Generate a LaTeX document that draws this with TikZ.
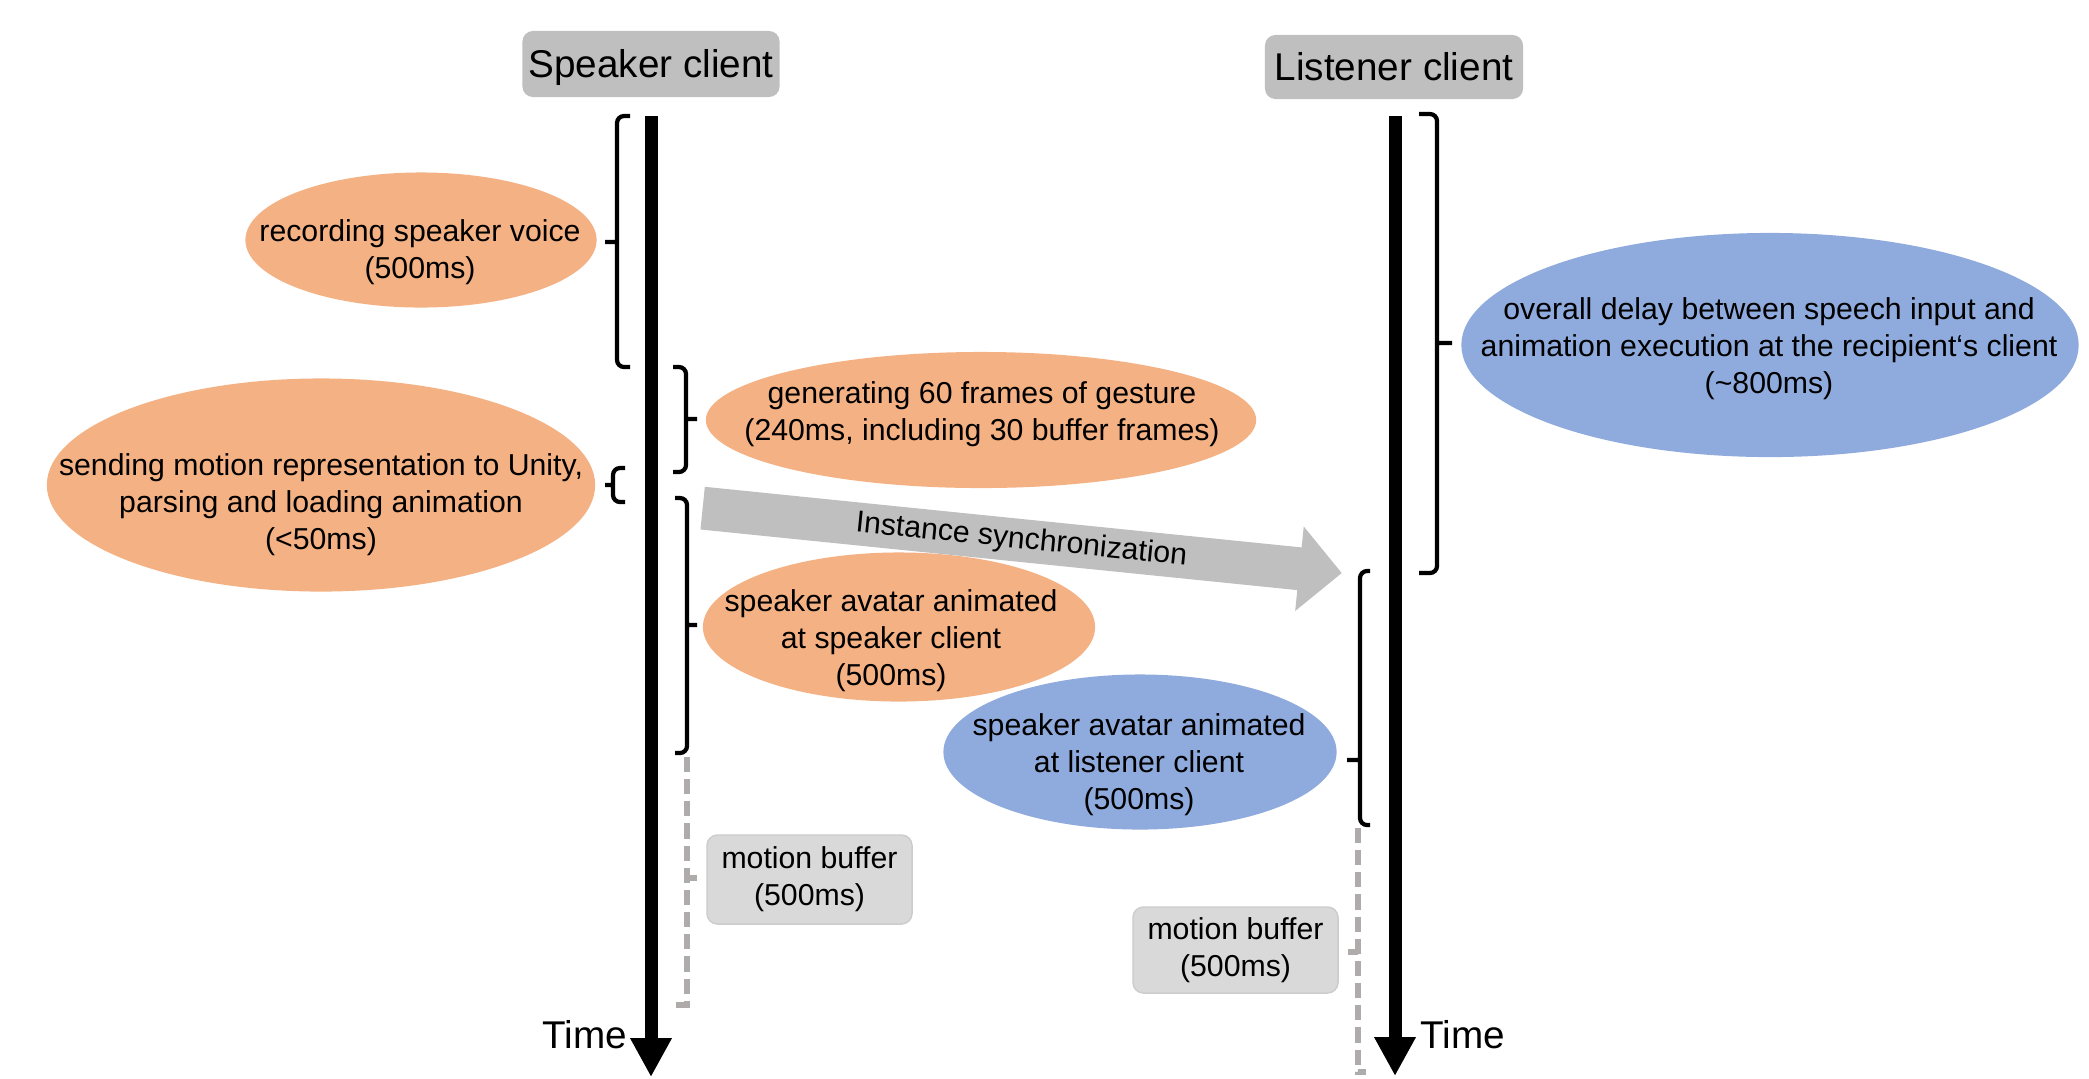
\documentclass[tikz,border=0pt]{standalone}
\usepackage{fontspec}
\setmainfont{Liberation Sans}
\usetikzlibrary{arrows.meta,shapes.geometric,shapes.arrows}
\definecolor{phaseorange}{HTML}{F4B183}
\definecolor{phaseblue}{HTML}{8FAADC}
\definecolor{titlegrey}{HTML}{BFBFBF}
\definecolor{buffergrey}{HTML}{D9D9D9}
\definecolor{dashgrey}{HTML}{AFABAB}
\def\timebrace[#1](#2:#3:#4)(#5:#6)(#7:#8){\draw[#1] (#5,#3) -- (#2,#3) -- (#2,#4) -- (#6,#4) (#2,#7) -- (#8,#7);}

\begin{document}
\begin{tikzpicture}[x=0.01cm, y=-0.01cm,
		client/.style={fill=titlegrey, rounded corners=3pt, inner sep=0pt, text height=7.9pt, text depth=0pt, minimum width=2.57cm, minimum height=0.65cm, font=\fontsize{11pt}{13pt}\selectfont},
		phase/.style={ellipse, inner sep=0pt},
		orangephase/.style={phase, fill=phaseorange},
		bluephase/.style={phase, fill=phaseblue},
		phasetext/.style={align=center, inner sep=0pt, font=\fontsize{8.6pt}{10.5pt}\selectfont},
		bufferbox/.style={fill=buffergrey, draw=black!20, line width=0.4pt, rounded corners=3pt, inner sep=0pt, minimum width=2.05cm, align=center, font=\fontsize{8.6pt}{10.5pt}\selectfont},
		timeline/.style={line width=3.7pt, -{Triangle[width=0.39cm,length=0.39cm]}},
		timelabel/.style={inner sep=0pt, font=\fontsize{11pt}{13pt}\selectfont},
		brace/.style={line width=1.2pt, rounded corners=2pt},
		bufferbrace/.style={line width=1.6pt, dashgrey, dash pattern=on 4.3pt off 2pt},
		syncarrow/.style={single arrow, fill=titlegrey, single arrow head extend=0.21cm, inner xsep=0pt, inner ysep=0.065cm, text height=6.3pt, text depth=1.8pt, font=\fontsize{8.6pt}{10.5pt}\selectfont}]
			%%%%% START %%%%%
			\useasboundingbox (0,0) rectangle (2089,1078);
			
			\node[client, minimum height=0.66cm] (spk-client) at (651,64) {Speaker client};
			\node[client, minimum width=2.58cm, minimum height=0.64cm] (lis-client) at (1394,67) {Listener client};
			
			\coordinate (spk-top) at (651,116);
			\coordinate (spk-end) at (651,1077);
			\coordinate (lis-top) at (1395,116);
			\coordinate (lis-end) at (1395,1076);
			\draw[timeline] (spk-top) -- (spk-end);
			\draw[timeline] (lis-top) -- (lis-end);
			\node[timelabel, anchor=east] (spk-time) at (628,1035) {Time};
			\node[timelabel, anchor=west] (lis-time) at (1420,1035) {Time};
			
			\node[orangephase, minimum width=3.51cm, minimum height=1.35cm] (rec) at (421,240) {};
			\node[phasetext] (rec-txt) at (420,252) {recording speaker voice\\(500ms)};
			
			\node[orangephase, minimum width=5.50cm, minimum height=1.36cm] (gen) at (981,420) {};
			\node[phasetext] (gen-txt) at (982,414) {generating 60 frames of gesture\\(240ms, including 30 buffer frames)};
			
			\node[orangephase, minimum width=5.48cm, minimum height=2.13cm] (send) at (321,485) {};
			\node[phasetext] (send-txt) at (321,505) {sending motion representation to Unity,\\parsing and loading animation\\(<50ms)};
			
			\node[orangephase, minimum width=3.92cm, minimum height=1.49cm] (spk-anim) at (899,627) {};
			\node[phasetext] (spk-anim-txt) at (891,641) {speaker avatar animated\\at speaker client\\(500ms)};
			
			\node[bluephase, minimum width=3.93cm, minimum height=1.55cm] (lis-anim) at (1140,752) {};
			\node[phasetext] (lis-anim-txt) at (1139,765) {speaker avatar animated\\at listener client\\(500ms)};
			
			\node[bluephase, minimum width=6.17cm, minimum height=2.24cm] (overall) at (1770,345) {};
			\node[phasetext] (overall-txt) at (1769,349) {overall delay between speech input and\\animation execution at the recipient‘s client\\(\textasciitilde800ms)};
			
			\node[syncarrow, rotate=-5.8, minimum height=6.42cm] (sync) at (1011.5,539.5) {\hspace*{0.2cm}Instance synchronization};
			
			\node[bufferbox, minimum height=0.89cm] (spk-buf) at (809.5,879.5) {motion buffer\\(500ms)};
			\node[bufferbox, minimum height=0.86cm] (lis-buf) at (1235.5,950) {motion buffer\\(500ms)};
			
			\timebrace[brace](617:116:367)(630:630)(242:605)
			\timebrace[brace](686:367:472)(673:673)(419:697)
			\timebrace[brace](613:468:502)(625:625)(485:605)
			\timebrace[brace](687:498:753)(675:675)(625:697)
			\timebrace[bufferbrace](687:757:1005)(687:676)(878:697)
			
			\timebrace[brace](1437:114:573)(1419:1419)(343:1452)
			\timebrace[brace](1360:571:825)(1370:1370)(760:1347)
			\timebrace[bufferbrace](1358:828:1072)(1358:1366)(952:1348)
			%%%%% END %%%%%
\end{tikzpicture}
\end{document}
